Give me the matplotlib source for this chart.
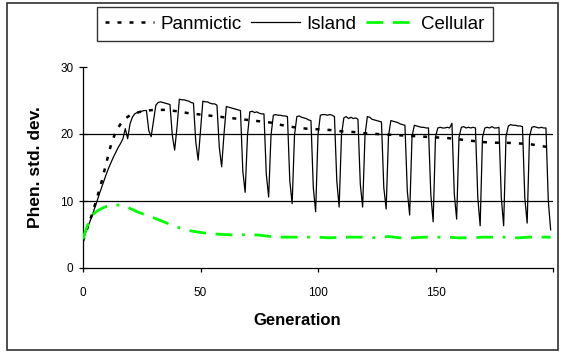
import numpy as np
import matplotlib
matplotlib.use("Agg")
import matplotlib.pyplot as plt
from matplotlib.patches import Rectangle

plt.rcParams['font.family'] = ['Liberation Sans', 'DejaVu Sans']

# ---------------- data ----------------
# Island model: one value per generation 0..199, one row per 10 generations
island = [
    4.0, 5.2, 6.1, 7.0, 7.9, 9.0, 10.0, 11.1, 12.1, 13.1,
    14.1, 15.0, 15.8, 16.6, 17.3, 18.0, 18.6, 19.3, 20.8, 19.3,
    21.5, 22.5, 23.0, 23.2, 23.3, 23.4, 23.5, 23.5, 20.5, 19.6,
    22.0, 24.3, 24.7, 24.8, 24.7, 24.6, 24.5, 24.4, 19.8, 17.6,
    21.0, 25.2, 25.1, 25.1, 25.0, 24.9, 24.7, 24.6, 18.8, 16.1,
    20.5, 24.9, 24.8, 24.8, 24.6, 24.5, 24.5, 24.3, 18.0, 15.1,
    20.0, 24.1, 24.0, 23.9, 23.8, 23.7, 23.6, 23.5, 14.5, 11.3,
    19.8, 23.3, 23.4, 23.2, 23.3, 23.1, 23.0, 23.0, 14.0, 10.6,
    19.8, 22.8, 22.9, 22.8, 22.8, 22.7, 22.7, 22.6, 13.0, 9.6,
    19.8, 22.6, 22.7, 22.5, 22.4, 22.3, 22.1, 22.0, 12.0, 8.4,
    19.9, 22.8, 22.9, 22.9, 22.8, 22.9, 22.8, 22.6, 13.0, 9.1,
    19.9, 22.4, 22.6, 22.3, 22.5, 22.3, 22.4, 22.2, 12.5, 9.1,
    19.8, 22.6, 22.5, 22.2, 22.1, 22.0, 21.9, 21.8, 12.0, 8.8,
    19.7, 22.0, 21.9, 21.8, 21.7, 21.5, 21.4, 21.3, 11.5, 7.9,
    19.6, 21.3, 21.2, 21.1, 21.0, 21.0, 20.9, 20.9, 11.0, 6.9,
    19.6, 20.9, 21.0, 20.9, 20.9, 21.0, 20.9, 21.6, 11.0, 7.3,
    19.5, 21.0, 21.1, 20.9, 21.0, 20.9, 21.0, 20.9, 10.5, 6.3,
    19.5, 20.9, 21.0, 20.9, 21.1, 20.9, 20.9, 21.0, 10.5, 6.3,
    19.6, 21.2, 21.4, 21.3, 21.3, 21.2, 21.2, 21.1, 10.5, 6.7,
    19.6, 21.0, 21.1, 21.0, 20.9, 21.0, 20.9, 20.9, 10.0, 5.7,
]
island_gen = np.arange(len(island))

pan_gen = [0, 2, 4, 6, 8, 10, 12, 14, 16, 18, 20, 25, 30, 35, 40, 45, 50,
           55, 60, 65, 70, 75, 80, 85, 90, 95, 100, 105, 110, 115, 120, 125,
           130, 135, 140, 145, 150, 155, 160, 165, 170, 175, 180, 185, 190,
           195, 199]
panmictic = [4.0, 6.1, 8.2, 10.5, 13.0, 15.8, 18.5, 20.4, 21.5, 22.3, 22.8,
             23.4, 23.6, 23.6, 23.4, 23.1, 22.9, 22.7, 22.5, 22.3, 22.1, 21.9,
             21.7, 21.3, 21.0, 20.8, 20.7, 20.6, 20.4, 20.3, 20.1, 20.0, 19.9,
             19.8, 19.7, 19.6, 19.5, 19.4, 19.2, 19.0, 18.8, 18.7, 18.7, 18.6,
             18.5, 18.2, 18.0]

cell_gen = [0, 1, 2, 3, 4, 6, 8, 10, 12, 14, 16, 18, 20, 23, 26, 30, 35, 40,
            45, 50, 55, 60, 65, 70, 75, 80, 85, 90, 95, 100, 105, 110, 115,
            120, 125, 130, 135, 140, 145, 150, 155, 160, 165, 170, 175, 180,
            185, 190, 195, 199]
cellular = [4.3, 5.5, 6.4, 7.2, 7.9, 8.5, 8.9, 9.2, 9.4, 9.4, 9.4, 9.2, 8.9,
            8.4, 8.0, 7.5, 6.8, 6.1, 5.6, 5.3, 5.1, 5.0, 4.9, 5.0, 4.9, 4.7,
            4.6, 4.6, 4.6, 4.6, 4.5, 4.6, 4.6, 4.6, 4.5, 4.7, 4.5, 4.5, 4.6,
            4.6, 4.6, 4.5, 4.5, 4.6, 4.6, 4.6, 4.5, 4.6, 4.6, 4.6]

x_ticks = [0, 50, 100, 150, 200]
x_ticklabels = ['0', '50', '100', '150', '']
y_ticks = [0, 10, 20, 30]
grid_levels = [10, 20]

# ---------------- figure ----------------
fig = plt.figure(figsize=(5.61, 3.53), dpi=100)
ax = fig.add_axes([83 / 561, 1 - 268 / 353, 470 / 561, 201 / 353])

# outer chart frame
fig.patches.append(Rectangle((7 / 561, 3 / 353), 551 / 561, 347 / 353,
                             transform=fig.transFigure, fill=False,
                             edgecolor='#303030', linewidth=1.2))

for lvl in grid_levels:
    ax.axhline(lvl, color='black', linewidth=0.9, zorder=1)

ax.plot(pan_gen, panmictic, color='black', linewidth=1.8,
        dashes=(1.6, 3.2), label='Panmictic', zorder=3)
ax.plot(island_gen, island, color='black', linewidth=0.9,
        label='Island', zorder=2)
ax.plot(cell_gen, cellular, color='#00ff00', linewidth=2,
        dashes=(6, 3.5, 6, 3.5, 1, 3.5), label='Cellular', zorder=3)

ax.set_xlim(0, 200)
ax.set_ylim(0, 30)
ax.set_xticks(x_ticks)
ax.set_xticklabels(x_ticklabels)
ax.set_yticks(y_ticks)

for side in ['top', 'right']:
    ax.spines[side].set_visible(False)
for side in ['left', 'bottom']:
    ax.spines[side].set_linewidth(0.9)

ax.tick_params(axis='x', direction='out', length=3, width=0.9,
               labelsize=8.5, pad=11)
ax.tick_params(axis='y', direction='inout', length=6, width=0.9,
               labelsize=8.5, pad=4)

ax.set_xlabel('Generation', fontsize=12, fontweight='bold')
ax.set_ylabel('Phen. std. dev.', fontsize=12.5, fontweight='bold')
ax.xaxis.set_label_coords(0.455, -0.225)
ax.yaxis.set_label_coords(-0.085, 0.5)

leg = fig.legend(loc='upper left', bbox_to_anchor=(97 / 561, 1 - 7 / 353),
                 ncol=3, fontsize=13.5, frameon=True, fancybox=False,
                 edgecolor='black', handlelength=2.6, handletextpad=0.35,
                 columnspacing=0.5, borderpad=0.45, borderaxespad=0)
leg.get_frame().set_linewidth(1.0)

fig.savefig('out.png', dpi=100)
